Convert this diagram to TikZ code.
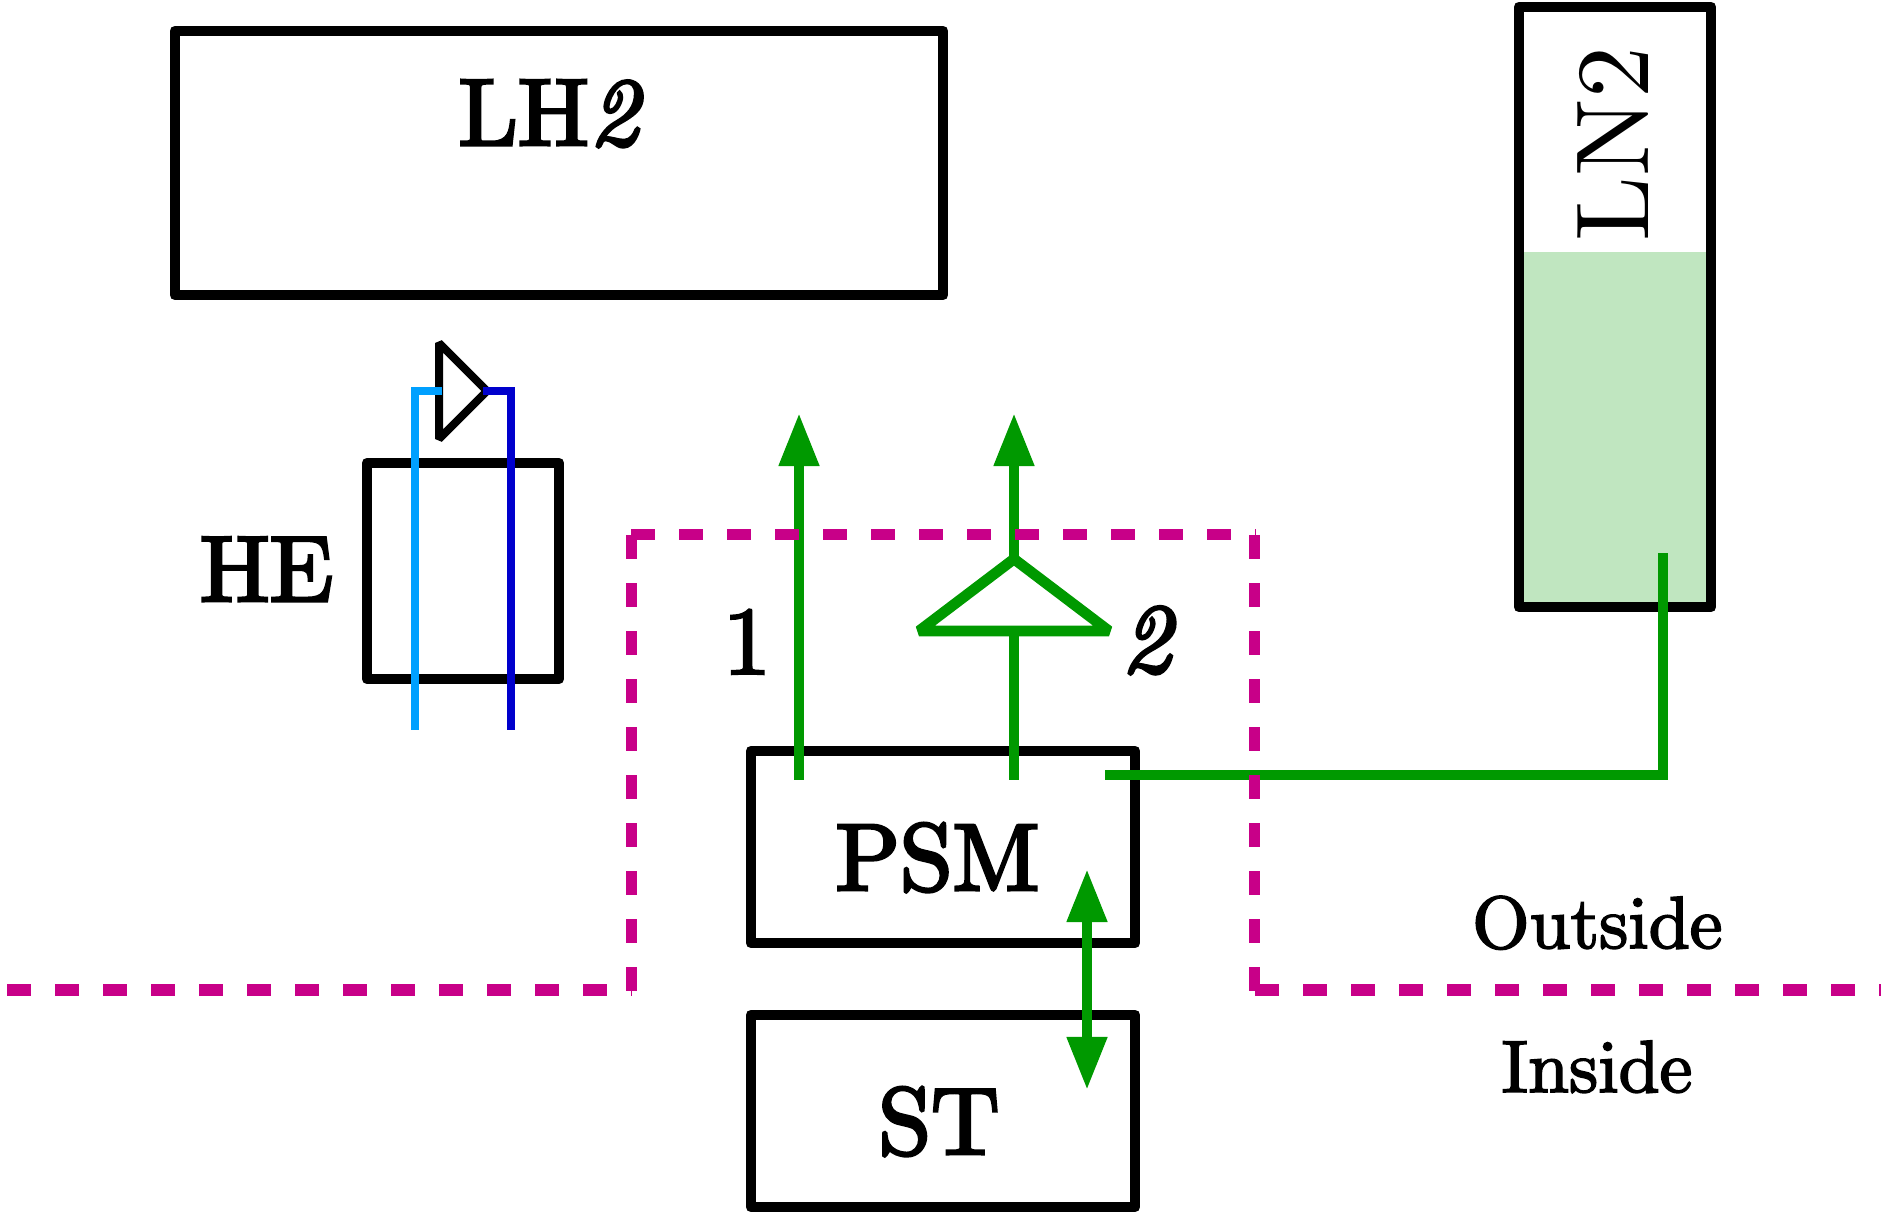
\documentclass[tikz,border=0pt]{standalone}
\usetikzlibrary{arrows.meta}
\font\fbig=cmr10 at 27pt
\font\fhe=cmr10 at 26.5pt
\font\fswash=cmti10 at 27.5pt
\font\fone=cmr10 at 27.5pt
\font\ftwo=cmti10 at 28pt
\font\fsmall=cmr10 at 21pt
\font\flntwo=cmr10 at 29.5pt
\newcommand{\heavy}[1]{\special{pdf:code q #1 w 2 Tr}}
\newcommand{\heavyoff}{\special{pdf:code Q}}
\definecolor{gline}{HTML}{009900}
\definecolor{mag}{HTML}{C80088}
\definecolor{lblue}{HTML}{00A0FF}
\definecolor{dblue}{HTML}{0000CC}
\definecolor{lnfill}{HTML}{C0E6C0}
\tikzset{
  boxn/.style={draw=black,line width=0.105cm,line join=round,rectangle,inner sep=0pt,outer sep=0pt},
  lab/.style={inner sep=0pt,outer sep=0pt,anchor=base,text=black},
  greenl/.style={draw=gline,line width=0.107cm},
  garrow/.style={greenl,-{Triangle[length=0.53cm,width=0.38cm,fill=gline]}},
  gtwoarrow/.style={greenl,{Triangle[length=0.53cm,width=0.38cm,fill=gline]}-{Triangle[length=0.53cm,width=0.38cm,fill=gline]}},
  magl/.style={draw=mag,line width=0.11cm,dash pattern=on 0.24cm off 0.24cm},
  heatl/.style={line width=0.08cm,miter limit=10}
}
\begin{document}
\begin{tikzpicture}[x=0.01cm,y=-0.01cm]
\useasboundingbox (0,0) rectangle (1881,1213);
% LN2 level
\fill[lnfill] (1519,252) rectangle (1711,607);
% boxes
\node[boxn,minimum width=7.68cm,minimum height=2.64cm] (lh) at (559,163) {};
\node[boxn,minimum width=1.92cm,minimum height=6.00cm] (ln) at (1615,307) {};
\node[boxn,minimum width=1.92cm,minimum height=2.16cm] (he) at (463,571) {};
\node[boxn,minimum width=3.84cm,minimum height=1.92cm] (psm) at (943,847) {};
\node[boxn,minimum width=3.84cm,minimum height=1.92cm] (st) at (943,1111) {};
% texts
\node[lab] (tlh) at (548.5,145) {\heavy{0.9}\fbig LH\fswash 2\heavyoff};
\node[lab,rotate=90] (tln) at (1648,144) {\flntwo LN2};
\node[lab] (the) at (266.5,601) {\heavy{0.9}\fhe HE\heavyoff};
\node[lab] (tpsm) at (937.5,890) {\heavy{0.9}\fbig PSM\heavyoff};
\node[lab] (tst) at (939,1154) {\heavy{0.9}\fbig ST\heavyoff};
\node[lab] (tone) at (747,674) {\heavy{0.7}\fone 1\heavyoff};
\node[lab] (ttwo) at (1146,672) {\heavy{0.9}\ftwo 2\heavyoff};
\node[lab] (tout) at (1597.5,948) {\heavy{0.5}\fsmall Outside\heavyoff};
\node[lab] (tin) at (1597,1092) {\heavy{0.5}\fsmall Inside\heavyoff};
% heat exchanger lines and valve
\coordinate (vt) at (439,343); \coordinate (vb) at (439,439); \coordinate (vr) at (487,391);
\draw[black,line width=0.08cm,line join=bevel] (vt) -- (vr) -- (vb) -- cycle;
\coordinate (lbb) at (415,730); \coordinate (lbc) at (415,391); \coordinate (lbe) at (442,391);
\coordinate (dbb) at (511,730); \coordinate (dbc) at (511,391); \coordinate (dbe) at (483,391);
\draw[lblue,heatl] (lbb) -- (lbc) -- (lbe);
\draw[dblue,heatl] (dbb) -- (dbc) -- (dbe);
% green lines
\coordinate (a1s) at (799,780); \coordinate (a1e) at (799,413);
\draw[garrow] (a1s) -- (a1e);
\coordinate (a2s) at (1014,780); \coordinate (a2b) at (1014,626);
\coordinate (a2a) at (1014,557); \coordinate (a2e) at (1014,413);
\draw[greenl] (a2s) -- (a2b);
\draw[garrow] (a2a) -- (a2e);
\coordinate (vgt) at (1014,559); \coordinate (vgl) at (919,631); \coordinate (vgr) at (1109,631);
\draw[greenl,line join=bevel] (vgt) -- (vgl) -- (vgr) -- cycle;
\coordinate (fs) at (1105,775); \coordinate (fc) at (1663,775); \coordinate (fe) at (1663,553);
\draw[greenl] (fs) -- (fc) -- (fe);
\coordinate (da) at (1087,869); \coordinate (db) at (1087,1090);
\draw[gtwoarrow] (da) -- (db);
% dashed boundary
\coordinate (ml) at (7,990); \coordinate (mlc) at (632,990);
\coordinate (mtl) at (631,535); \coordinate (mtr) at (1255.5,535);
\coordinate (mbl) at (631,991); \coordinate (mbr) at (1254,991);
\coordinate (mrs) at (1254,535); \coordinate (mrh) at (1255,990); \coordinate (mre) at (1881,990);
\draw[magl] (ml) -- (mlc);
\draw[magl] (mtl) -- (mbl);
\draw[magl] (mtl) -- (mtr);
\draw[magl] (mrs) -- (mbr);
\draw[magl] (mrh) -- (mre);
\end{tikzpicture}
\end{document}
